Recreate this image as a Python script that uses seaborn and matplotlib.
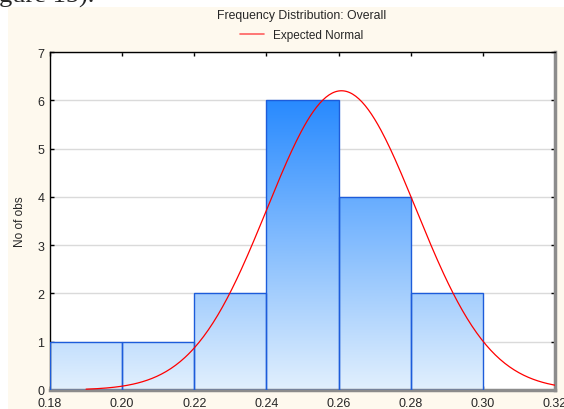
import numpy as np
import matplotlib
matplotlib.use("Agg")
import matplotlib.pyplot as plt
from matplotlib.colors import LinearSegmentedColormap
from matplotlib.lines import Line2D
from matplotlib.patches import Rectangle
import seaborn as sns

# --- data ---
bin_edges = [0.18, 0.20, 0.22, 0.24, 0.26, 0.28, 0.30]
bin_counts = [1, 1, 2, 6, 4, 2]
normal_mean = 0.2608
normal_sd = 0.0206
curve_start, curve_end = 0.19, 0.32
x_ticks = [0.18, 0.20, 0.22, 0.24, 0.26, 0.28, 0.30, 0.32]
y_ticks = [0, 1, 2, 3, 4, 5, 6, 7]

sns.set_style("white")
plt.rcParams["font.family"] = ["Liberation Sans", "DejaVu Sans"]

fig = plt.figure(figsize=(5.64, 4.10), dpi=100)
fig.patch.set_facecolor("white")
fig.patches.append(Rectangle((8 / 564, 0), 1, 1 - 8 / 410, transform=fig.transFigure,
                             facecolor="#FEF9EE", edgecolor="none", zorder=-10))
# caption of the page the chart was cut from, mostly off the top edge
fig.text(-0.040, 1 - 3 / 410, "Figure 15).", family="Liberation Serif", fontsize=19,
         va="baseline", ha="left")

ax = fig.add_axes([50 / 564, 1 - 391 / 410, (555 - 50) / 564, (391 - 53) / 410])
ax.set_facecolor("white")

mids = [(a + b) / 2 for a, b in zip(bin_edges[:-1], bin_edges[1:])]
sns.histplot(x=mids, weights=bin_counts, bins=bin_edges, ax=ax,
             facecolor="none", edgecolor="#1D5CDA", linewidth=1.0, zorder=3)

# vertical gradient inside each bar
cmap = LinearSegmentedColormap.from_list("bar", ["#E2F0FD", "#288AFF"])
grad = np.linspace(0, 1, 256).reshape(-1, 1)
for p in ax.patches:
    im = ax.imshow(grad, cmap=cmap, origin="lower", aspect="auto",
                   extent=[0.18, 0.32, 0, 6], zorder=2, interpolation="bicubic")
    im.set_clip_path(p)

# expected normal curve
n = sum(bin_counts)
w = bin_edges[1] - bin_edges[0]
xs = np.linspace(curve_start, curve_end, 300)
ys = n * w * np.exp(-0.5 * ((xs - normal_mean) / normal_sd) ** 2) / (normal_sd * np.sqrt(2 * np.pi))
sns.lineplot(x=xs, y=ys, ax=ax, color="#FF0000", linewidth=0.9, zorder=4)

ax.set_xlim(0.18, 0.32)
ax.set_ylim(0, 7)
ax.set_xticks(x_ticks)
ax.set_xticklabels([f"{t:.2f}" for t in x_ticks], fontsize=9)
ax.set_yticks(y_ticks)
ax.set_yticklabels([str(t) for t in y_ticks], fontsize=9)
ax.yaxis.grid(True, color="#DADADA", linewidth=1.0, zorder=0)
ax.set_axisbelow(True)
ax.tick_params(direction="in", length=3, width=1, color="black",
               top=True, right=True, bottom=True, left=True)
ax.tick_params(axis="x", pad=5)
ax.tick_params(axis="y", pad=4)
ax.set_xlabel("")
ax.set_ylabel("No of obs", fontsize=8.5, labelpad=8)

for side in ["left", "top"]:
    ax.spines[side].set_color("black")
    ax.spines[side].set_linewidth(1.0)
for side in ["right", "bottom"]:
    ax.spines[side].set_color("#8C8C8C")
    ax.spines[side].set_linewidth(2.5)

fig.text(302 / 564, 1 - 16 / 410, "Frequency Distribution: Overall", fontsize=8.8,
         ha="center", va="center")
fig.legend(handles=[Line2D([], [], color="#FF6060", linewidth=1.2)],
           labels=["Expected Normal"], loc="center", bbox_to_anchor=(302 / 564, 1 - 36 / 410),
           frameon=False, fontsize=8.5, handlelength=2.0, handletextpad=0.8)

fig.savefig("out.png", dpi=100)
